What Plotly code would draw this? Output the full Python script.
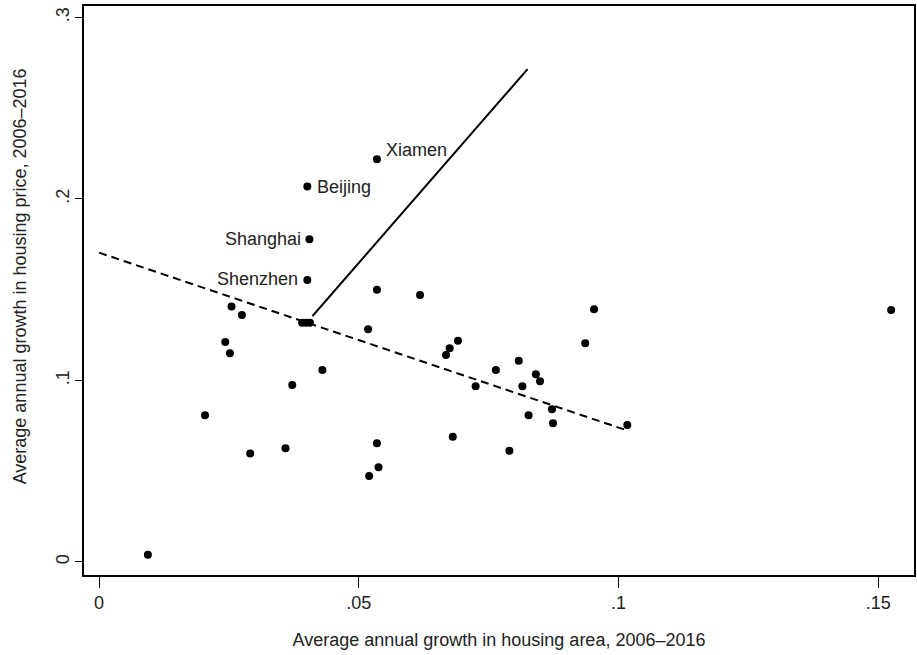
"""
Housing price growth vs housing area growth across Chinese cities, 2006-2016.
Scatter of city averages with the overall fit (dashed) and a line to the big-city group.
"""

import plotly.graph_objects as go

# City averages
area_growth = [
    0.0535, 0.0401, 0.0405, 0.0401, 0.0255, 0.0275, 0.0391, 0.0399, 0.0406,
    0.0535, 0.0618, 0.0953, 0.1525, 0.0518, 0.0243, 0.0252, 0.0691, 0.0675,
    0.0668, 0.0936, 0.0808, 0.0764, 0.0430, 0.0841, 0.0849, 0.0815, 0.0725,
    0.0372, 0.0872, 0.0827, 0.0874, 0.1017, 0.0204, 0.0535, 0.0681, 0.0790,
    0.0538, 0.0520, 0.0291, 0.0359, 0.0094,
]
price_growth = [
    0.2219, 0.2068, 0.1778, 0.1554, 0.1407, 0.1361, 0.1318, 0.1318, 0.1318,
    0.1499, 0.1471, 0.1392, 0.1388, 0.1282, 0.1212, 0.1150, 0.1219, 0.1177,
    0.1140, 0.1205, 0.1109, 0.1058, 0.1058, 0.1034, 0.0996, 0.0968, 0.0968,
    0.0975, 0.0841, 0.0808, 0.0764, 0.0755, 0.0808, 0.0654, 0.0690, 0.0612,
    0.0522, 0.0474, 0.0597, 0.0626, 0.0040,
]

# Labelled cities
city_names = ["Xiamen", "Beijing", "Shanghai", "Shenzhen"]
city_area = [0.0535, 0.0401, 0.0405, 0.0401]
city_price = [0.2219, 0.2068, 0.1778, 0.1554]

# Fitted line (dashed) and the steep line towards the big cities
fit_x = [0.0, 0.1013]
fit_y = [0.1704, 0.0728]
steep_x = [0.0411, 0.0825]
steep_y = [0.1355, 0.2715]

x_ticks = [0, 0.05, 0.1, 0.15]
x_ticktext = ["0", ".05", ".1", ".15"]
y_ticks = [0, 0.1, 0.2, 0.3]
y_ticktext = ["0", ".1", ".2", ".3"]

FONT = "Arial, Liberation Sans, sans-serif"
TXT = "#222222"

fig = go.Figure()

fig.add_trace(go.Scatter(
    x=fit_x, y=fit_y, mode="lines",
    line=dict(color="black", width=2, dash="8px,5px"),
    showlegend=False, hoverinfo="skip"
))
fig.add_trace(go.Scatter(
    x=steep_x, y=steep_y, mode="lines",
    line=dict(color="black", width=2),
    showlegend=False, hoverinfo="skip"
))
fig.add_trace(go.Scatter(
    x=area_growth, y=price_growth, mode="markers",
    marker=dict(color="black", size=8),
    showlegend=False
))

# city labels: (xanchor, xshift, yshift)
label_pos = {
    "Xiamen": ("left", 7, 9),
    "Beijing": ("left", 8, 0),
    "Shanghai": ("right", -6, 0),
    "Shenzhen": ("right", -7, 1),
}
for name, cx, cy in zip(city_names, city_area, city_price):
    anchor, dx, dy = label_pos[name]
    fig.add_annotation(
        x=cx, y=cy, text=name, showarrow=False,
        xanchor=anchor, yanchor="middle", xshift=dx, yshift=dy,
        font=dict(family=FONT, size=18, color=TXT)
    )

# y title placed by hand (Stata centres it a bit above the plot middle)
fig.add_annotation(
    xref="paper", yref="paper", x=-0.077, y=0.525,
    text="Average annual growth in housing price, 2006\u20132016",
    textangle=-90, showarrow=False, xanchor="center", yanchor="middle",
    font=dict(family=FONT, size=18, color=TXT)
)

fig.update_layout(
    width=917, height=655,
    margin=dict(l=84, r=3, t=6, b=80),
    paper_bgcolor="white", plot_bgcolor="white",
    font=dict(family=FONT, size=18, color=TXT),
)
fig.update_xaxes(
    range=[-0.0029, 0.1569], tickvals=x_ticks, ticktext=x_ticktext,
    showgrid=False, zeroline=False, automargin=False,
    showline=True, linecolor="black", linewidth=1.5, mirror=True,
    ticks="outside", ticklen=11, tickwidth=1.2, tickcolor="black",
    tickfont=dict(family=FONT, size=18, color=TXT),
    title=dict(text="Average annual growth in housing area, 2006\u20132016",
               font=dict(family=FONT, size=18, color=TXT), standoff=21),
)
fig.update_yaxes(
    range=[-0.0072, 0.3063], tickvals=y_ticks, ticktext=y_ticktext,
    showgrid=False, zeroline=False, automargin=False,
    showline=True, linecolor="black", linewidth=1.5, mirror=True,
    ticks="outside", ticklen=7, tickwidth=1.2, tickcolor="black",
    tickangle=-90, ticklabelstandoff=-1,
    tickfont=dict(family=FONT, size=18, color=TXT),
)

# drop the default 8px body margin so the figure fills the window exactly
fig.write_html(
    "out.html",
    config={"displayModeBar": False},
    post_script="document.body.style.margin = '0';",
)
